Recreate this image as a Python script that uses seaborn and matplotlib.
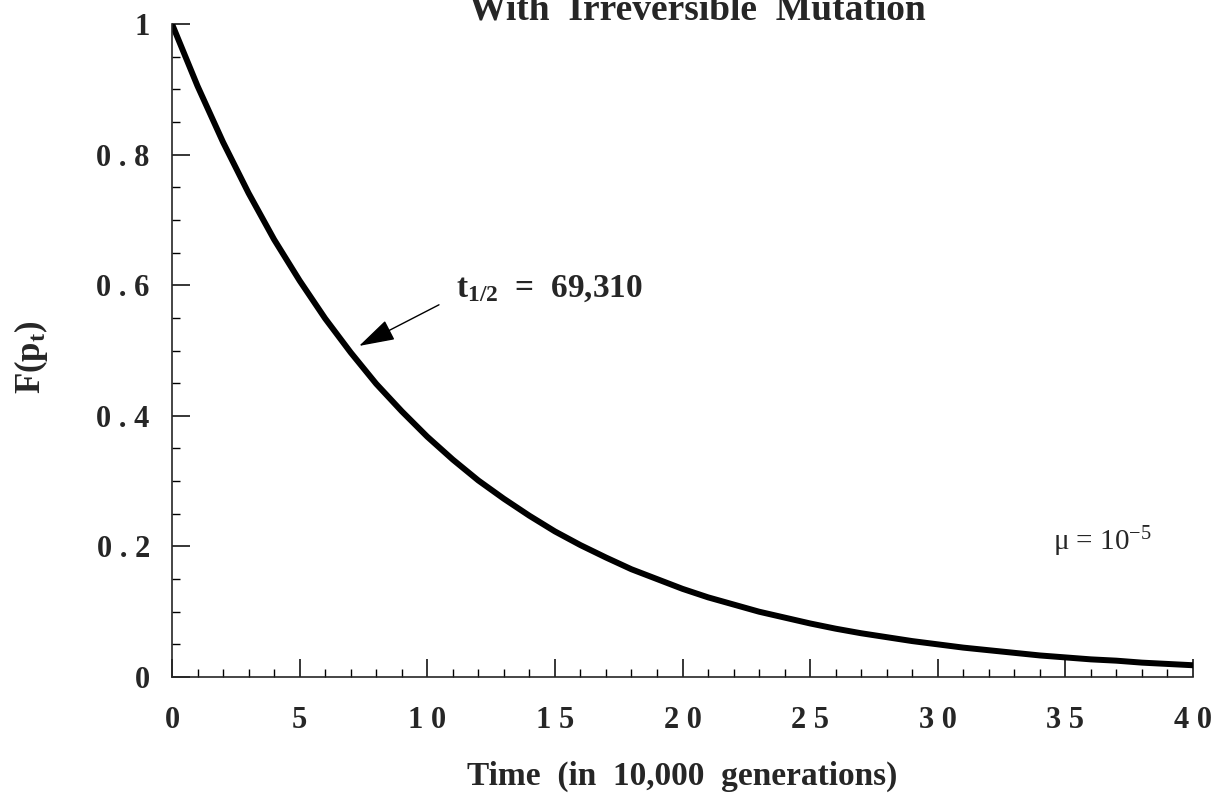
import numpy as np
import pandas as pd
import matplotlib
matplotlib.use("Agg")
import matplotlib.pyplot as plt
import seaborn as sns
from matplotlib.ticker import MultipleLocator

# values
time_gen = list(range(0, 41))
freq = [1.000, 0.905, 0.819, 0.741, 0.670, 0.607, 0.549, 0.497, 0.449, 0.407,
        0.368, 0.333, 0.301, 0.273, 0.247, 0.223, 0.202, 0.183, 0.165, 0.150,
        0.135, 0.122, 0.111, 0.100, 0.091, 0.082, 0.074, 0.067, 0.061, 0.055,
        0.050, 0.045, 0.041, 0.037, 0.033, 0.030, 0.027, 0.025, 0.022, 0.020,
        0.018]

x_ticks = [0, 5, 10, 15, 20, 25, 30, 35, 40]
x_ticklabels = ["0", "5", "1 0", "1 5", "2 0", "2 5", "3 0", "3 5", "4 0"]
y_ticks = [0, 0.2, 0.4, 0.6, 0.8, 1.0]
y_ticklabels = ["0", "0 . 2", "0 . 4", "0 . 6", "0 . 8", "1"]

sns.set_style("ticks")
plt.rcParams['font.family'] = ['Liberation Serif', 'DejaVu Serif']
plt.rcParams['mathtext.fontset'] = 'custom'
plt.rcParams['mathtext.rm'] = 'Liberation Serif'
plt.rcParams['mathtext.it'] = 'Liberation Serif:italic'
plt.rcParams['mathtext.bf'] = 'Liberation Serif:bold'

df = pd.DataFrame({"t": time_gen, "F": freq})

fig = plt.figure(figsize=(12.24, 7.95), dpi=100)
ax = fig.add_axes([172 / 1224, 1 - 677 / 795, 1021 / 1224, 653 / 795])

sns.lineplot(data=df, x="t", y="F", ax=ax, color="black", linewidth=4.3)

ax.set_xlim(0, 40)
ax.set_ylim(0, 1)
sns.despine(ax=ax)
for s in ["left", "bottom"]:
    ax.spines[s].set_linewidth(1.2)

ax.set_xticks(x_ticks)
ax.set_xticklabels(x_ticklabels, fontsize=22, fontweight="bold")
ax.set_yticks(y_ticks)
ax.set_yticklabels(y_ticklabels, fontsize=22, fontweight="bold")
ax.xaxis.set_minor_locator(MultipleLocator(1))
ax.yaxis.set_minor_locator(MultipleLocator(0.05))
ax.tick_params(axis="both", which="major", direction="in", length=13, width=1.1, color="black")
ax.tick_params(axis="both", which="minor", direction="in", length=6, width=1.0, color="black")
ax.tick_params(axis="x", which="major", pad=21)
ax.tick_params(axis="y", which="major", pad=16)

ax.set_xlabel("Time  (in  10,000  generations)", fontsize=24, fontweight="bold",
              va="baseline")
ax.xaxis.set_label_coords(0.5, -(785 - 677) / 653)
ax.set_ylabel(r"$\mathbf{F(p_t)}$", fontsize=25, va="center", ha="center")
ax.yaxis.set_label_coords(-0.138, 0.49)

ax.annotate("", xy=(7.33, 0.507), xytext=(10.46, 0.570),
            arrowprops=dict(arrowstyle="-|>,head_length=1.5,head_width=0.45",
                            color="black", lw=1.0, mutation_scale=15,
                            shrinkA=0, shrinkB=0))
ax.text(11.13, 0.582, r"$\mathbf{t_{1/2}}$  =  69,310", fontsize=24,
        fontweight="bold", ha="left", va="baseline")
ax.text(34.5, 0.194, r"μ = 10$^{-5}$", fontsize=21, ha="left", va="baseline")

fig.text(697 / 1224, 1 - 19 / 795, "With  Irreversible  Mutation", fontsize=27,
         fontweight="bold", ha="center", va="baseline")

fig.savefig("out.png", dpi=100, facecolor="white")
